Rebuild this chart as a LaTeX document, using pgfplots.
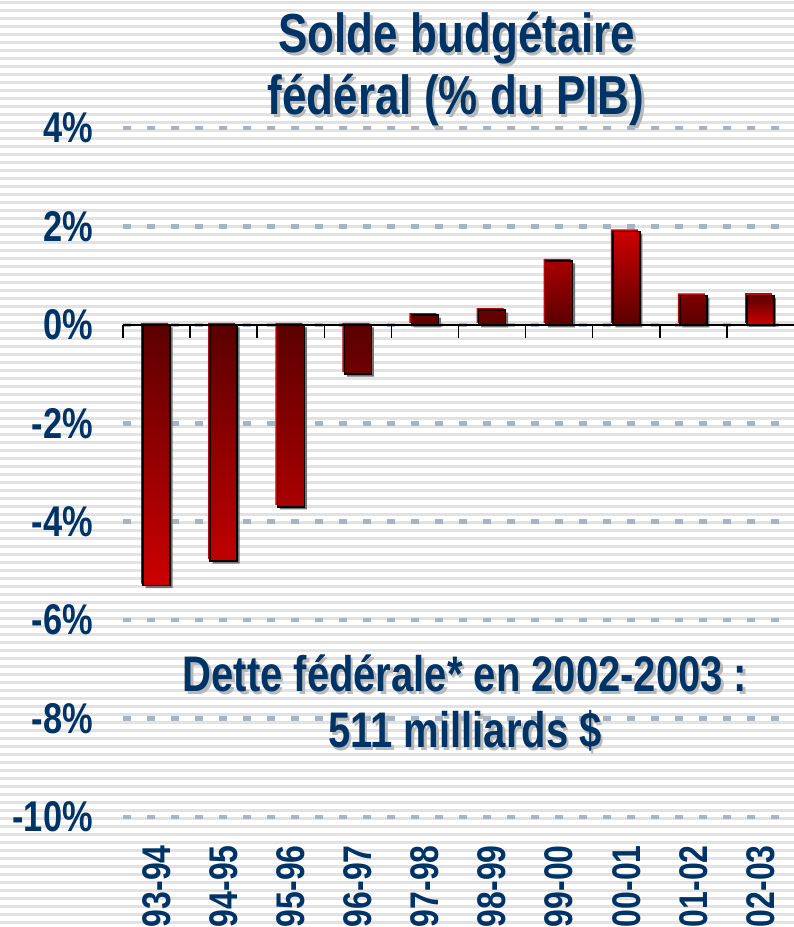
\documentclass[border=0pt]{standalone}
\usepackage{pgfplots}
\pgfplotsset{compat=1.18}
\usepackage{pgfplotstable}
\usepackage{fontspec}
\setmainfont{Liberation Sans}[FakeStretch=0.8]
\definecolor{navy}{HTML}{003366}
\definecolor{gridc}{HTML}{A6B4C4}
\definecolor{stripe}{HTML}{E2E2E2}
\definecolor{darkred}{HTML}{5A0000}
\definecolor{brightred}{HTML}{CC0000}
\definecolor{shadowc}{HTML}{B8B8B8}

\pgfplotstableread{
x y
0 -5.3
1 -4.8
2 -3.7
3 -1.0
}\datneg
\pgfplotstableread{
x y
4 0.2
5 0.3
6 1.3
7 1.9
8 0.6
}\datpos
\pgfplotstableread{
x y
9 0.6
}\datlast

\newcommand{\shtext}[4]{%
  \node[anchor=base, inner sep=0pt, text=shadowc, font=#3] at ({#1+2.5pt},{#2-2.5pt}) {#4};
  \node[anchor=base, inner sep=0pt, text=navy, font=#3] at (#1,#2) {#4};}

\begin{document}
\begin{tikzpicture}
\fill[white] (0pt,0pt) rectangle (794pt,927pt);
\foreach \i in {0,...,115} {\fill[stripe] (0pt,{925.5pt-8pt*\i}) rectangle (794pt,{923pt-8pt*\i});}
\path[use as bounding box] (0pt,0pt) rectangle (794pt,927pt);
\begin{axis}[
  at={(123pt,110pt)}, anchor=south west,
  scale only axis, width=671pt, height=689pt,
  xmin=-0.5, xmax=9.5, ymin=-10, ymax=4,
  axis line style={draw=none},
  tick style={draw=none},
  xtick={0,...,9},
  xticklabels={93-94,94-95,95-96,96-97,97-98,98-99,99-00,00-01,01-02,02-03},
  ytick={-10,-8,...,4},
  yticklabels={-10\%,-8\%,-6\%,-4\%,-2\%,0\%,2\%,4\%},
  ymajorgrids,
  grid style={gridc, line width=4.5pt, dash pattern=on 8pt off 16pt},
  ticklabel style={text=navy, inner sep=0pt},
  xticklabel style={rotate=90, anchor=east, font=\fontsize{40}{46}\selectfont\bfseries},
  yticklabel style={anchor=east, font=\fontsize{43}{50}\selectfont\bfseries},
  xticklabel shift=28pt,
  yticklabel shift=30pt,
  clip=false,
  shadowbar/.style={ybar, bar width=27pt, bar shift=2.5pt, yshift=-2.5pt, fill=black!55, draw=none},
  redbar/.style={ybar, bar width=27pt, bar shift=-2pt, yshift=2pt, fill=brightred, draw=none},
  mainbar/.style={ybar, bar width=27pt, bar shift=0pt, draw=black, line width=1.5pt},
]
\addplot[shadowbar] table[x=x,y=y]{\datneg};
\addplot[shadowbar] table[x=x,y=y]{\datpos};
\addplot[shadowbar] table[x=x,y=y]{\datlast};
\addplot[redbar] table[x=x,y=y]{\datneg};
\addplot[redbar] table[x=x,y=y]{\datpos};
\addplot[redbar] table[x=x,y=y]{\datlast};
\addplot[mainbar, top color=darkred, bottom color=brightred] table[x=x,y=y]{\datneg};
\addplot[mainbar, top color=brightred, bottom color=darkred] table[x=x,y=y]{\datpos};
\addplot[mainbar, top color=darkred, bottom color=brightred] table[x=x,y=y]{\datlast};
\draw[black, line width=1.5pt] (axis cs:-0.5,0) -- (axis cs:9.5,0);
\pgfplotsinvokeforeach{-0.5,0.5,1.5,2.5,3.5,4.5,5.5,6.5,7.5,8.5}{
  \draw[black, line width=1.5pt] (axis cs:#1,0) -- ++(0pt,-13pt);
}
\end{axis}
\shtext{457pt}{874pt}{\fontsize{55}{62}\selectfont\bfseries}{Solde budgétaire}
\shtext{456pt}{812pt}{\fontsize{55}{62}\selectfont\bfseries}{fédéral (\% du PIB)}
\shtext{465pt}{235pt}{\fontsize{50}{58}\selectfont\bfseries}{Dette fédérale* en 2002-2003 :}
\shtext{465pt}{179pt}{\fontsize{50}{58}\selectfont\bfseries}{511 milliards \$}
\end{tikzpicture}
\end{document}
